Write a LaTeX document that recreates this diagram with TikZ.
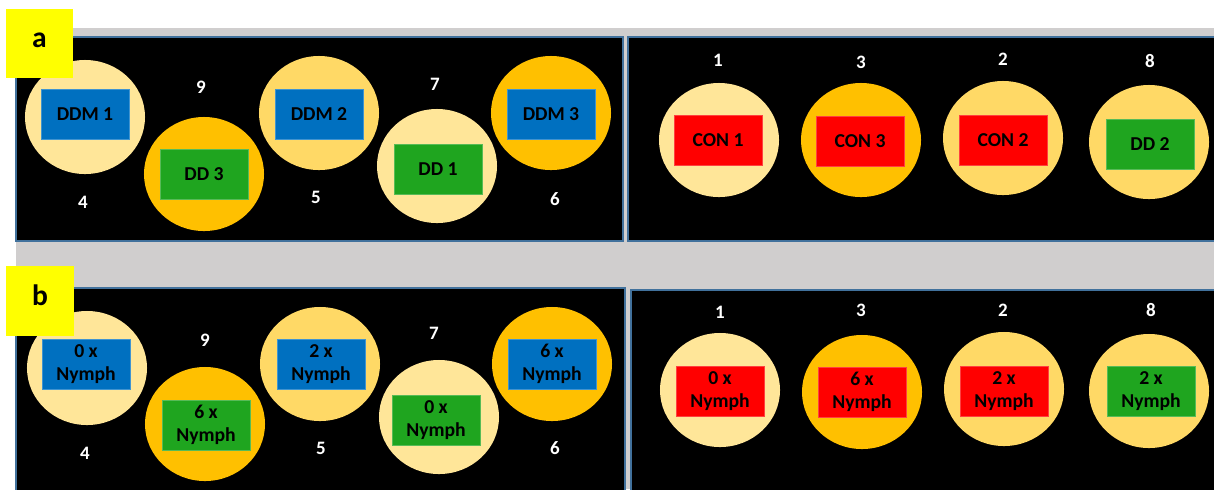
\documentclass[tikz,border=0pt]{standalone}
\usepackage{fontspec}
\setmainfont{Carlito}
\usepackage{xcolor}
\usetikzlibrary{shapes.geometric}

\definecolor{panelgrey}{HTML}{D0CECE}
\definecolor{panelrim}{HTML}{41719C}
\definecolor{palesand}{HTML}{FFE699}
\definecolor{midsand}{HTML}{FFD966}
\definecolor{deepsand}{HTML}{FFC000}
\definecolor{tagblue}{HTML}{0070C0}
\definecolor{taggreen}{HTML}{1FA51F}
\definecolor{tagred}{HTML}{FF0000}
\definecolor{flagyellow}{HTML}{FFFF00}

\begin{document}
\begin{tikzpicture}[x=0.025cm, y=-0.025cm,
        every node/.style={font=\fontsize{14}{16.5}\selectfont\bfseries},
        panel/.style={fill=black, draw=panelrim, line width=0.8pt},
        tank/.style={ellipse, fill=#1, minimum width=3cm, minimum height=2.85cm, inner sep=0pt},
        tag/.style={rectangle, fill=#1, draw=#1!75!white, line width=0.5pt, minimum width=2.2cm, minimum height=1.25cm, inner sep=0pt, align=center, text=black},
        num/.style={text=white, font=\fontsize{13.5}{16}\selectfont\bfseries},
        flagbox/.style={fill=flagyellow, minimum width=1.68cm, minimum height=1.74cm, inner sep=0pt, text height=0.35cm, text depth=0.15cm, font=\fontsize{21}{24}\selectfont\bfseries}]
        \useasboundingbox (0,0) rectangle (1214,489);

        % Background and panels
        \fill[panelgrey] (16,28) rectangle (1214,489);
        \draw[panel] (16,37) rectangle (623,241);
        \draw[panel] (628,37) rectangle (1222,241);
        \draw[panel] (16,288) rectangle (625,497);
        \draw[panel] (631,290) rectangle (1222,497);

        % Panel a, left
        \node[tank=palesand] (ta1) at (85,117) {};
        \node[tank=deepsand] (ta2) at (204,174) {};
        \node[tank=midsand] (ta3) at (319,113) {};
        \node[tank=palesand] (ta4) at (437,166) {};
        \node[tank=deepsand] (ta5) at (551,113) {};
        \node[tag=tagblue] (ga1) at (85,114) {DDM 1};
        \node[tag=taggreen] (ga2) at (204,174) {DD 3};
        \node[tag=tagblue] (ga3) at (319,114) {DDM 2};
        \node[tag=taggreen] (ga4) at (438,169) {DD 1};
        \node[tag=tagblue] (ga5) at (551,114) {DDM 3};
        \node[num] (na9) at (201,87) {9};
        \node[num] (na4) at (83,202) {4};
        \node[num] (na5) at (316,197) {5};
        \node[num] (na7) at (435,84) {7};
        \node[num] (na6) at (555,199) {6};

        % Panel a, right
        \node[tank=palesand] (ta6) at (719,140) {};
        \node[tank=deepsand] (ta7) at (861,140) {};
        \node[tank=midsand] (ta8) at (1003,138) {};
        \node[tank=midsand] (ta9) at (1149,142) {};
        \node[tag=tagred] (ga6) at (718,140) {CON 1};
        \node[tag=tagred] (ga7) at (860,141) {CON 3};
        \node[tag=tagred] (ga8) at (1003,140) {CON 2};
        \node[tag=taggreen] (ga9) at (1150,144) {DD 2};
        \node[num] (na1) at (718,60) {1};
        \node[num] (na3) at (861,62) {3};
        \node[num] (na2) at (1003,59) {2};
        \node[num] (na8) at (1150,61) {8};

        % Panel b, left
        \node[tank=palesand] (tb1) at (87,368) {};
        \node[tank=deepsand] (tb2) at (205,424) {};
        \node[tank=midsand] (tb3) at (320,364) {};
        \node[tank=palesand] (tb4) at (439,417) {};
        \node[tank=deepsand] (tb5) at (552,364) {};
        \node[tag=tagblue] (gb1) at (86,364) {0 x\\Nymph};
        \node[tag=taggreen] (gb2) at (206,425) {6 x\\Nymph};
        \node[tag=tagblue] (gb3) at (321,364) {2 x\\Nymph};
        \node[tag=taggreen] (gb4) at (436,420) {0 x\\Nymph};
        \node[tag=tagblue] (gb5) at (552,364) {6 x\\Nymph};
        \node[num] (nb9) at (205,340) {9};
        \node[num] (nb4) at (85,453) {4};
        \node[num] (nb5) at (321,448) {5};
        \node[num] (nb7) at (434,333) {7};
        \node[num] (nb6) at (555,448) {6};

        % Panel b, right
        \node[tank=palesand] (tb6) at (720,390) {};
        \node[tank=deepsand] (tb7) at (862,392) {};
        \node[tank=midsand] (tb8) at (1004,389) {};
        \node[tank=midsand] (tb9) at (1149,391) {};
        \node[tag=tagred] (gb6) at (720,391) {0 x\\Nymph};
        \node[tag=tagred] (gb7) at (862,392) {6 x\\Nymph};
        \node[tag=tagred] (gb8) at (1004,391) {2 x\\Nymph};
        \node[tag=taggreen] (gb9) at (1151,391) {2 x\\Nymph};
        \node[num] (nb1) at (720,312) {1};
        \node[num] (nb3) at (861,310) {3};
        \node[num] (nb2) at (1003,310) {2};
        \node[num] (nb8) at (1151,310) {8};

        % Panel letters
        \node[flagbox] (fa) at (39.5,43.5) {a};
        \node[flagbox] (fb) at (40,301) {b};
    \end{tikzpicture}
\end{document}
